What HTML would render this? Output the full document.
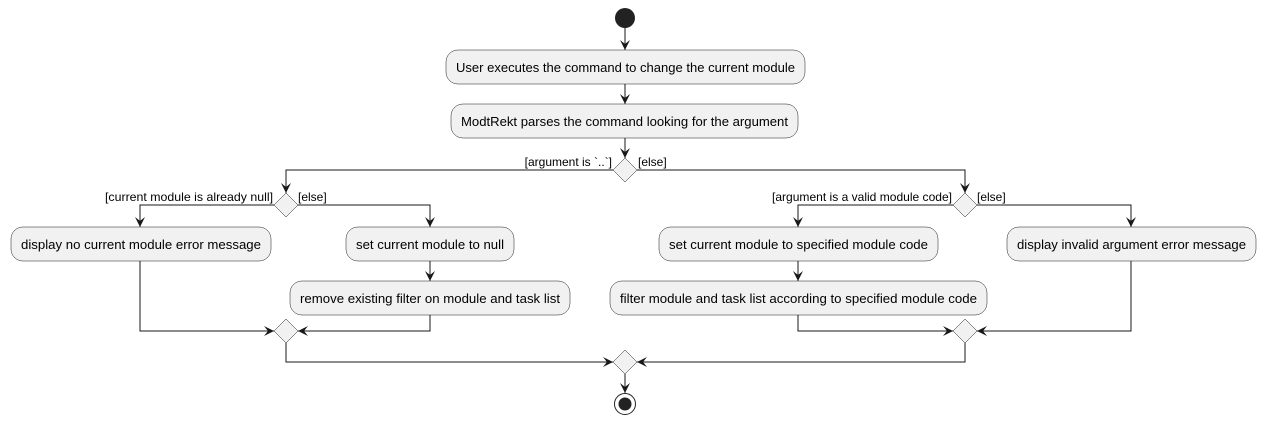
<!DOCTYPE html>
<html><head><meta charset="utf-8"><style>
html,body{margin:0;padding:0;background:#fff;}
svg text{font-family:"Liberation Sans",sans-serif;font-size:13px;fill:#000;}
</style></head><body>
<svg width="1266" height="426" xmlns="http://www.w3.org/2000/svg">
<defs>
<marker id="a" viewBox="0 0 10 10" refX="10" refY="5" markerWidth="10" markerHeight="10" orient="auto" markerUnits="userSpaceOnUse">
<path d="M0,0 L10,5 L0,10 L4,5 Z" fill="#181818"/>
</marker>
</defs>
<g stroke="#181818" stroke-width="1" fill="none">
<line x1="625" y1="28" x2="625" y2="50" marker-end="url(#a)"/>
<line x1="625" y1="84" x2="625" y2="104" marker-end="url(#a)"/>
<line x1="625" y1="138" x2="625" y2="158" marker-end="url(#a)"/>
<polyline points="613,170 286,170 286,193" marker-end="url(#a)"/>
<polyline points="637,170 965,170 965,193" marker-end="url(#a)"/>
<polyline points="274,205 140,205 140,227" marker-end="url(#a)"/>
<polyline points="298,205 430,205 430,227" marker-end="url(#a)"/>
<line x1="430" y1="261" x2="430" y2="281" marker-end="url(#a)"/>
<polyline points="140,261 140,331 274,331" marker-end="url(#a)"/>
<polyline points="430,315 430,331 298,331" marker-end="url(#a)"/>
<polyline points="953,205 798,205 798,227" marker-end="url(#a)"/>
<polyline points="977,205 1131,205 1131,227" marker-end="url(#a)"/>
<line x1="798" y1="261" x2="798" y2="281" marker-end="url(#a)"/>
<polyline points="798,315 798,331 953,331" marker-end="url(#a)"/>
<polyline points="1131,261 1131,331 977,331" marker-end="url(#a)"/>
<polyline points="286,343 286,362 613,362" marker-end="url(#a)"/>
<polyline points="965,343 965,362 637,362" marker-end="url(#a)"/>
<line x1="625" y1="374" x2="625" y2="393" marker-end="url(#a)"/>
</g>
<circle cx="625" cy="18" r="10" fill="#222"/>
<circle cx="625" cy="404" r="10.5" fill="none" stroke="#222" stroke-width="1"/>
<circle cx="625" cy="404" r="6.5" fill="#222"/>
<g fill="#f1f1f1" stroke="#181818" stroke-width="0.5">
<rect x="446" y="50" width="359" height="34" rx="12"/>
<rect x="451" y="104" width="347" height="34" rx="12"/>
<rect x="11" y="227" width="260" height="34" rx="12"/>
<rect x="346" y="227" width="168" height="34" rx="12"/>
<rect x="290" y="281" width="280" height="34" rx="12"/>
<rect x="659" y="227" width="279" height="34" rx="12"/>
<rect x="1007" y="227" width="249" height="34" rx="12"/>
<rect x="610" y="281" width="377" height="34" rx="12"/>
<polygon points="625,158 637,170 625,182 613,170"/>
<polygon points="286,193 298,205 286,217 274,205"/>
<polygon points="965,193 977,205 965,217 953,205"/>
<polygon points="286,319 298,331 286,343 274,331"/>
<polygon points="965,319 977,331 965,343 953,331"/>
<polygon points="625,350 637,362 625,374 613,362"/>
</g>
<g text-anchor="middle">
<text x="625.5" y="72" textLength="339" lengthAdjust="spacingAndGlyphs">User executes the command to change the current module</text>
<text x="624.5" y="126" textLength="327" lengthAdjust="spacingAndGlyphs">ModtRekt parses the command looking for the argument</text>
<text x="141" y="249" textLength="240" lengthAdjust="spacingAndGlyphs">display no current module error message</text>
<text x="430" y="249" textLength="148" lengthAdjust="spacingAndGlyphs">set current module to null</text>
<text x="430" y="303" textLength="260" lengthAdjust="spacingAndGlyphs">remove existing filter on module and task list</text>
<text x="798.5" y="249" textLength="259" lengthAdjust="spacingAndGlyphs">set current module to specified module code</text>
<text x="1131.5" y="249" textLength="229" lengthAdjust="spacingAndGlyphs">display invalid argument error message</text>
<text x="798.5" y="303" textLength="357" lengthAdjust="spacingAndGlyphs">filter module and task list according to specified module code</text>
</g>
<g>
<text x="612" y="166" text-anchor="end" style="font-size:12px">[argument is `..`]</text>
<text x="638" y="166" style="font-size:12px">[else]</text>
<text x="273" y="201" text-anchor="end" style="font-size:12px" textLength="168" lengthAdjust="spacingAndGlyphs">[current module is already null]</text>
<text x="298" y="201" style="font-size:12px">[else]</text>
<text x="952" y="201" text-anchor="end" style="font-size:12px" textLength="180" lengthAdjust="spacingAndGlyphs">[argument is a valid module code]</text>
<text x="977" y="201" style="font-size:12px">[else]</text>
</g>
</svg>
</body></html>
